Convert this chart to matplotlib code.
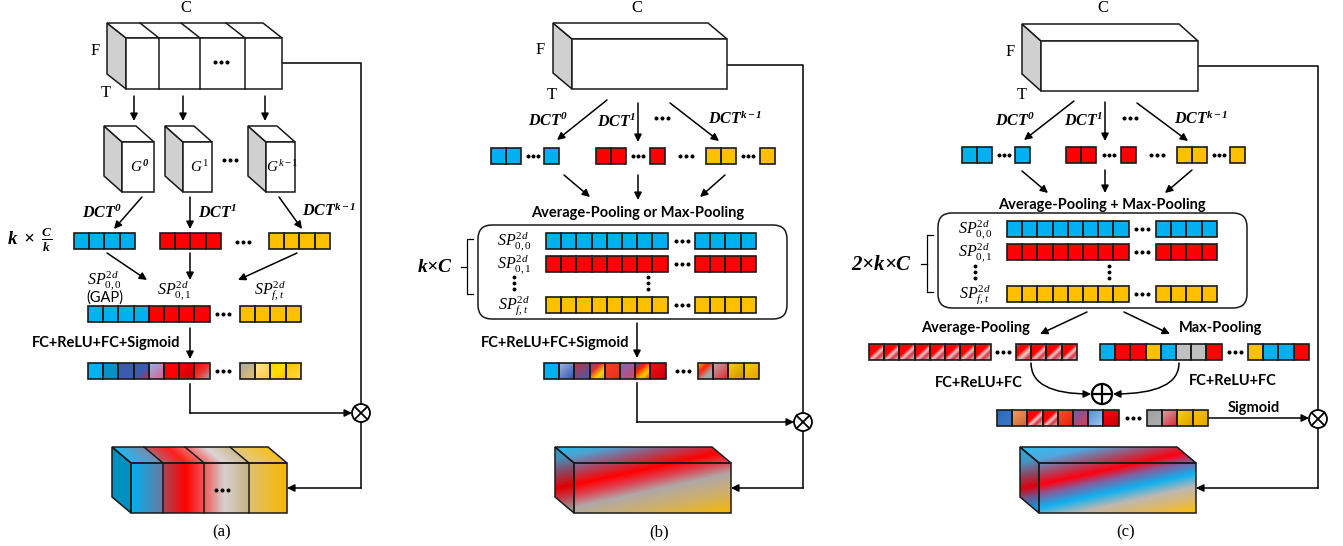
import numpy as np
import matplotlib.pyplot as plt
from matplotlib.patches import Polygon, Rectangle, Circle, FancyBboxPatch
from matplotlib.colors import LinearSegmentedColormap

plt.rcParams['mathtext.fontset'] = 'custom'
plt.rcParams['mathtext.rm'] = 'Liberation Serif'
plt.rcParams['mathtext.it'] = 'Liberation Serif:italic'
plt.rcParams['mathtext.bf'] = 'Liberation Serif:italic:bold'

SERIF = 'Liberation Serif'
SANS = 'Lato'

BLUE = '#00b0f0'
RED = '#ff0000'
YEL = '#ffc000'
GRAY = '#c0c0c0'
SIDE = '#d0d0d0'
EDGE = '#1a1a1a'

# ---- texts ----
panel_labels = ['(a)', '(b)', '(c)']
dct_labels = [r'$\mathbf{DCT^{0}}$', r'$\mathbf{DCT^{1}}$', r'$\mathbf{DCT^{k-1}}$']
g_labels = [r'$G^{\mathbf{0}}$', r'$G^{1}$', r'$G^{k-1}$']
sp_labels = [r'$SP^{2d}_{0,0}$', r'$SP^{2d}_{0,1}$', r'$SP^{2d}_{f,t}$']
fc_sig = 'FC+ReLU+FC+Sigmoid'
fc_only = 'FC+ReLU+FC'
pool_b = 'Average-Pooling or Max-Pooling'
pool_c = 'Average-Pooling + Max-Pooling'
dim_a = r'$\mathbf{k\ \times\ \frac{C}{k}}$'
dim_b = r'$\mathbf{k{\times}C}$'
dim_c = r'$\mathbf{2{\times}k{\times}C}$'

# ---- cell colours ----
row_blue = [BLUE] * 4
row_red = [RED] * 4
row_yel = [YEL] * 4

sig_a_head = [[BLUE], ['#0a90c8'], ['#3a5cb0'], ['#3a5cb0', '#3a5cb0', '#c0304a'],
              ['#90b8f0', '#e05a80'], [RED], [RED, '#c80010'], [RED, '#f03030', '#a8a8a8']]
sig_a_tail = [['#a8a8a8', '#e8c070'], ['#ffe6a0', '#ffc830'],
              ['#ffd000', '#ffe000', '#ffc000'], ['#ffc000', '#ffe040']]

sig_b_head = [[BLUE], ['#a0b8e8', '#3050a0'], ['#c03040', '#4060b0'],
              ['#5060a0', '#e03030', '#ffd000', '#a0a0a0'], ['#ff4020', '#e03020'],
              ['#7070c0', '#e04060'], ['#2060b0', '#ff2000', '#ffd000', '#ff2000'],
              ['#ff1010', '#c00010']]
sig_b_tail = [['#ffc000', '#ff2000', '#a8a8a8', '#a8a8a8'], ['#c8a8a8', '#e02030'],
              ['#ffd000', '#c89000'], ['#ffd000', '#d8a000']]

avg_cell = ['#4a70b0', RED, RED, RED, '#e8d0d0', '#e03040', '#c0a0a0', '#d8b050']
avg_c_head = [avg_cell] * 8
avg_c_tail = [['#00b0f0', RED, RED, '#e8d0d0', '#e03040', '#c0a080']] + [avg_cell] * 3

max_c_head = [BLUE, RED, RED, YEL, BLUE, GRAY, GRAY, RED]
max_c_tail = [YEL, BLUE, BLUE, RED]

out_c_head = [['#2a6ab8', '#3a7ac8'], ['#f0a060', '#d06030'], avg_cell, avg_cell,
              ['#ff5020', '#e02010'], ['#6a60b0', '#e03a50'], ['#4a90d8', '#a8c8f0'],
              [RED, '#c00010']]
out_c_tail = [['#a0a0a0', '#b0b0b0'], ['#d0a8a8', '#e02030'],
              ['#ffd000', '#d8a000'], ['#ffc000', '#e0a800']]

# output tensors
out_a_stops = [(0, '#00b0f0'), (0.2, '#6a7aa0'), (0.205, '#a84858'), (0.35, '#ff0000'),
               (0.47, '#f05a5a'), (0.6, '#d8d0d0'), (0.75, '#c8b488'), (0.76, '#e0c070'),
               (1, '#f5b800')]
out_b_stops = [(0, '#20c0f0'), (0.12, '#50a0d0'), (0.25, '#a05070'), (0.4, '#ff0000'),
               (0.5, '#e04050'), (0.62, '#b0a8a8'), (0.8, '#d0b068'), (1, '#f5b800')]
out_c_stops = [(0, '#30c0f0'), (0.15, '#50a8e0'), (0.28, '#a05070'), (0.40, '#ff0010'),
               (0.5, '#8060a0'), (0.62, '#10b0f0'), (0.75, '#c0b8b0'), (0.88, '#e0b860'),
               (1, '#ffc000')]

CW, CH = 15.2, 16

fig = plt.figure(figsize=(13.43, 5.46), dpi=100)
ax = fig.add_axes([0, 0, 1, 1])
ax.axis('off')


def grad_poly(verts, stops, vec, t0=None, t1=None, z=2):
    verts = np.array(verts, dtype=float)
    x0, y0 = verts.min(0)
    x1, y1 = verts.max(0)
    X, Y = np.meshgrid(np.linspace(x0, x1, 150), np.linspace(y0, y1, 150))
    T = X * vec[0] + Y * vec[1]
    proj = verts[:, 0] * vec[0] + verts[:, 1] * vec[1]
    if t0 is None:
        t0, t1 = proj.min(), proj.max()
    T = np.clip((T - t0) / (t1 - t0), 0, 1)
    cmap = LinearSegmentedColormap.from_list('g', stops)
    im = ax.imshow(T, cmap=cmap, vmin=0, vmax=1, extent=(x0, x1, y1, y0),
                   origin='upper', interpolation='bilinear', aspect='auto', zorder=z)
    clip = Polygon(verts, closed=True, fc='none', ec='none')
    ax.add_patch(clip)
    im.set_clip_path(clip)


def outline(verts, lw=1.1, z=3):
    ax.add_patch(Polygon(verts, closed=True, fc='none', ec=EDGE, lw=lw, zorder=z))


def faces(fx0, fy0, fx1, fy1, dx, dy):
    side = [(fx0 - dx, fy0 - dy), (fx0, fy0), (fx0, fy1), (fx0 - dx, fy1 - dy)]
    top = [(fx0 - dx, fy0 - dy), (fx1 - dx, fy0 - dy), (fx1, fy0), (fx0, fy0)]
    front = [(fx0, fy0), (fx1, fy0), (fx1, fy1), (fx0, fy1)]
    return side, top, front


def plain_box(fx0, fy0, fx1, fy1, dx, dy, divs=()):
    side, top, front = faces(fx0, fy0, fx1, fy1, dx, dy)
    ax.add_patch(Polygon(side, closed=True, fc=SIDE, ec=EDGE, lw=1.1, zorder=3))
    ax.add_patch(Polygon(top, closed=True, fc='white', ec=EDGE, lw=1.1, zorder=3))
    ax.add_patch(Polygon(front, closed=True, fc='white', ec=EDGE, lw=1.1, zorder=3))
    for x in divs:
        ax.plot([x, x], [fy0, fy1], color=EDGE, lw=1.1, zorder=4)
        ax.plot([x - dx, x], [fy0 - dy, fy0], color=EDGE, lw=1.1, zorder=4)


def cells(x0, y0, fills, w=CW, h=CH):
    for i, f in enumerate(fills):
        x = x0 + i * w
        if isinstance(f, str) or len(f) == 1:
            c = f if isinstance(f, str) else f[0]
            ax.add_patch(Rectangle((x, y0), w, h, fc=c, ec='none', zorder=3))
        else:
            grad_poly([(x, y0), (x + w, y0), (x + w, y0 + h), (x, y0 + h)], f, (1, 1), z=3)
        ax.add_patch(Rectangle((x, y0), w, h, fc='none', ec=EDGE, lw=1.2, zorder=4))


def dots(x, y, s=5):
    ax.plot([x - s, x, x + s], [y, y, y], 'o', color='k', ms=1.9, zorder=5)


def vdots(x, ya, yb):
    ax.plot([x, x, x], [ya, (ya + yb) / 2, yb], 'o', color='k', ms=1.8, zorder=5)


def arrow(x0, y0, x1, y1, conn='arc3'):
    ax.annotate('', xy=(x1, y1), xytext=(x0, y0),
                arrowprops=dict(arrowstyle='-|>', mutation_scale=11, lw=1.1, color='k',
                                shrinkA=0, shrinkB=0, connectionstyle=conn), zorder=5)


def line(xs, ys):
    ax.plot(xs, ys, color='k', lw=1.1, zorder=2)


def otimes(x, y, r=9):
    ax.add_patch(Circle((x, y), r, fc='white', ec='k', lw=1.3, zorder=5))
    d = r * 0.707
    ax.plot([x - d, x + d], [y - d, y + d], color='k', lw=1.3, zorder=6)
    ax.plot([x - d, x + d], [y + d, y - d], color='k', lw=1.3, zorder=6)


def oplus(x, y, r=10):
    ax.add_patch(Circle((x, y), r, fc='white', ec='k', lw=1.6, zorder=5))
    ax.plot([x - r, x + r], [y, y], color='k', lw=1.6, zorder=6)
    ax.plot([x, x], [y - r, y + r], color='k', lw=1.6, zorder=6)


def serif(x, y, s, size=12):
    ax.text(x, y, s, ha='center', va='center', family=SERIF, fontsize=size, zorder=6)


def bold(x, y, s, size=10.5):
    ax.text(x, y, s, ha='center', va='center', family=SANS, fontweight='bold',
            fontsize=size, zorder=6)


def math(x, y, s, size=11.5):
    ax.text(x, y, s, ha='center', va='center', fontsize=size, zorder=6)


def brace(x, ya, yb, tick=6):
    ym = (ya + yb) / 2
    ax.plot([x + tick, x, x, x + tick], [ya, ya, yb, yb], color='k', lw=0.9)
    ax.plot([x - tick, x], [ym, ym], color='k', lw=0.9)


def input_labels(cx, fx, fy, tx, ty):
    serif(cx, 8, 'C')
    serif(fx, fy, 'F')
    serif(tx, ty, 'T')


def grad_box(fx0, fy0, fx1, fy1, dx, dy, stops, vec):
    side, top, front = faces(fx0, fy0, fx1, fy1, dx, dy)
    allv = np.array(side + top + front)
    proj = allv[:, 0] * vec[0] + allv[:, 1] * vec[1]
    for f in (side, top, front):
        grad_poly(f, stops, vec, proj.min(), proj.max(), z=2)
    ax.add_patch(Polygon(side, closed=True, fc='k', alpha=0.12, ec='none', zorder=2.5))
    for f in (side, top, front):
        outline(f)


# ================= (a) =================
input_labels(186, 95, 51, 106, 93)
plain_box(126, 38, 282, 89, 19, 15, divs=(159, 200, 245))
dots(221, 62, 6)
for xa in (134, 183, 265):
    arrow(xa, 96, xa, 121)
for (gx0, gx1), lab in zip([(122, 154), (183, 212), (266, 295)], g_labels):
    plain_box(gx0, 142, gx1, 192, 18, 16)
    math((gx0 + gx1) / 2 + 2, 167, lab, 11)
dots(230, 160, 6)
arrow(142, 197, 114, 229)
arrow(190, 197, 190, 229)
arrow(279, 197, 302, 229)
math(102, 212, dct_labels[0])
math(217, 212, dct_labels[1])
math(329, 210, dct_labels[2])
math(30, 240, dim_a, 13.5)
cells(74, 233, row_blue)
cells(160, 233, row_red)
cells(269, 233, row_yel)
dots(243, 242, 6)
arrow(107, 253, 147, 280)
arrow(190, 253, 190, 280)
arrow(297, 253, 238, 280)
math(104, 280, sp_labels[0], 11.5)
ax.text(105, 298, '(GAP)', ha='center', va='center', family=SANS, fontsize=10.5, zorder=6)
math(174, 290, sp_labels[1], 11.5)
math(270, 290, sp_labels[2], 11.5)
cells(88, 306, row_blue + row_red)
cells(240, 306, row_yel)
dots(223, 314, 6)
arrow(190, 328, 190, 359)
bold(106, 343, fc_sig)
cells(88, 363, sig_a_head)
cells(240, 363, sig_a_tail)
dots(223, 371, 6)
line([282, 361, 361], [63, 63, 404])
otimes(361, 413)
line([190, 190], [384, 413])
arrow(190, 413, 352, 413)
line([361, 361], [422, 488])
arrow(361, 488, 287, 488)
# output tensor (a)
side, top, front = faces(131, 463, 287, 513, 19, 16)
ax.add_patch(Polygon(side, closed=True, fc='#0090c0', ec='none', zorder=2))
grad_poly(front, out_a_stops, (1, 0), 131, 287)
k = 19 / 16
grad_poly(top, out_a_stops, (1, -k), 131 - 463 * k, 287 - 463 * k)
ax.add_patch(Polygon(top, closed=True, fc='white', alpha=0.12, ec='none', zorder=2.5))
for f in (side, top, front):
    outline(f)
for xd in (163, 204, 249):
    ax.plot([xd, xd], [463, 513], color=EDGE, lw=1.1, zorder=4)
    ax.plot([xd - 19, xd], [447, 463], color=EDGE, lw=1.1, zorder=4)
dots(222, 490, 6)
serif(222, 532, panel_labels[0])

# ================= (b) =================
input_labels(637, 540, 50, 552, 95)
plain_box(572, 39, 727, 89, 19, 16)
arrow(607, 100, 557, 140)
arrow(638, 103, 638, 142)
arrow(670, 103, 719, 141)
math(548, 120, dct_labels[0])
math(616, 121, dct_labels[1])
dots(662, 118, 6)
math(735, 118, dct_labels[2])
for x2, x1, col in [(491, 544, BLUE), (596, 650, RED), (706, 760, YEL)]:
    cells(x2, 148, [col, col])
    cells(x1, 148, [col])
    dots((x2 + 2 * CW + x1) / 2, 156, 5)
dots(686, 156, 6)
arrow(564, 175, 590, 197)
arrow(638, 175, 638, 200)
arrow(725, 175, 700, 197)
bold(638, 213, pool_b)
ax.add_patch(FancyBboxPatch((478, 225), 309, 94, boxstyle='round,pad=0,rounding_size=14',
                            fc='white', ec=EDGE, lw=1.1, zorder=2))
for yr, col, lab in [(233, BLUE, sp_labels[0]), (256, RED, sp_labels[1]), (297, YEL, sp_labels[2])]:
    cells(546, yr, [col] * 8)
    cells(695, yr, [col] * 4)
    dots(682, yr + 8, 6)
    math(514, yr + 8, lab, 11.5)
vdots(514, 277, 289)
vdots(648, 277, 289)
brace(467, 239, 294)
math(435, 266, dim_b, 14)
arrow(637, 323, 637, 358)
bold(555, 343, fc_sig)
cells(544, 363, sig_b_head)
cells(698, 363, sig_b_tail)
dots(683, 371, 6)
line([727, 803, 803], [65, 65, 413])
otimes(803, 422)
line([637, 637], [383, 422])
arrow(637, 422, 794, 422)
line([803, 803], [431, 488])
arrow(803, 488, 731, 488)
grad_box(574, 463, 731, 513, 19, 16, out_b_stops, (0.22, 1))
serif(659, 532, panel_labels[1])

# ================= (c) =================
input_labels(1103, 1010, 52, 1022, 95)
plain_box(1041, 41, 1198, 91, 19, 17)
arrow(1074, 101, 1024, 140)
arrow(1105, 102, 1105, 141)
arrow(1137, 103, 1188, 141)
math(1015, 120, dct_labels[0])
math(1083, 120, dct_labels[1])
dots(1130, 118, 6)
math(1201, 118, dct_labels[2])
for x2, x1, col in [(962, 1015, BLUE), (1066, 1121, RED), (1177, 1230, YEL)]:
    cells(x2, 147, [col, col])
    cells(x1, 147, [col])
    dots((x2 + 2 * CW + x1) / 2, 155, 5)
dots(1157, 155, 6)
arrow(1022, 171, 1048, 193)
arrow(1105, 170, 1105, 193)
arrow(1192, 170, 1165, 193)
bold(1102, 205, pool_c)
ax.add_patch(FancyBboxPatch((938, 213), 309, 95, boxstyle='round,pad=0,rounding_size=14',
                            fc='white', ec=EDGE, lw=1.1, zorder=2))
for yr, col, lab in [(221, BLUE, sp_labels[0]), (244, RED, sp_labels[1]), (286, YEL, sp_labels[2])]:
    cells(1007, yr, [col] * 8)
    cells(1156, yr, [col] * 4)
    dots(1142, yr + 8, 6)
    math(975, yr + 8, lab, 11.5)
vdots(975, 266, 278)
vdots(1109, 266, 278)
brace(927, 235, 292)
math(882, 264, dim_c, 15)
arrow(1087, 312, 1040, 334)
arrow(1124, 312, 1170, 334)
bold(976, 328, 'Average-Pooling')
bold(1221, 328, 'Max-Pooling')
cells(869, 344, avg_c_head)
cells(1016, 344, avg_c_tail)
dots(1003, 352, 6)
cells(1100, 344, max_c_head)
cells(1248, 344, max_c_tail)
dots(1235, 352, 6)
arrow(1031, 363, 1091, 394, 'angle3,angleA=90,angleB=0')
arrow(1179, 363, 1113, 394, 'angle3,angleA=90,angleB=0')
oplus(1102, 394)
bold(979, 383, fc_only)
bold(1233, 381, fc_only)
cells(997, 410, out_c_head)
cells(1147, 410, out_c_tail)
dots(1133, 418, 6)
arrow(1209, 418, 1309, 418)
bold(1254, 408, 'Sigmoid')
line([1198, 1318, 1318], [66, 66, 410])
otimes(1318, 419)
line([1318, 1318], [428, 488])
arrow(1318, 488, 1196, 488)
grad_box(1039, 463, 1196, 513, 19, 16, out_c_stops, (0.22, 1))
serif(1126, 532, panel_labels[2])

ax.set_xlim(0, 1343)
ax.set_ylim(546, 0)
fig.savefig('out.png', dpi=100)
